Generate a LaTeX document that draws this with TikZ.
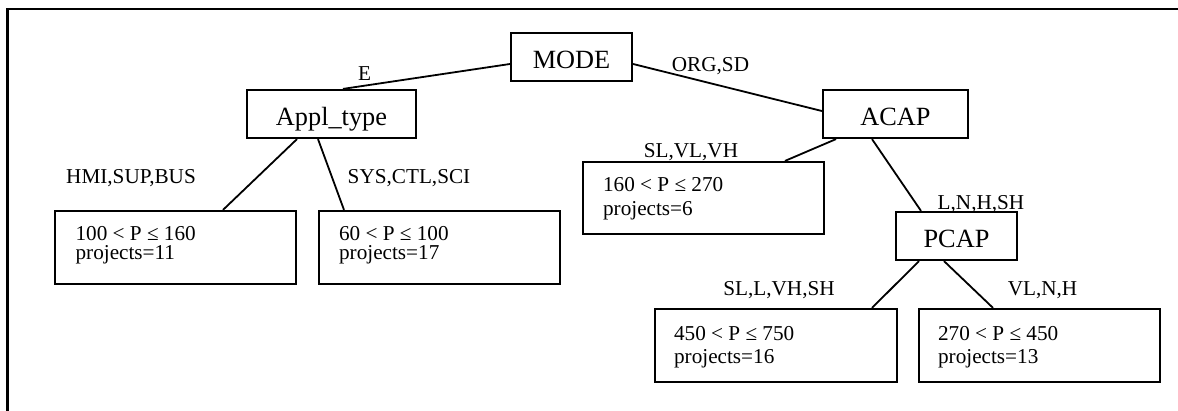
\documentclass[tikz,border=0pt]{standalone}
\usepackage{fontspec}
\setmainfont{Liberation Serif}
\begin{document}
\begin{tikzpicture}[x=1pt,y=-1pt,
  frame/.style={line width=2.6pt},
  split/.style={draw, line width=2.2pt, minimum width=#1, minimum height=48pt,
    inner sep=0pt, font=\fontsize{26.3}{30}\selectfont,
    text height=22pt, text depth=0pt},
  leaf/.style={draw, line width=2.2pt, minimum width=241pt, minimum height=73pt, inner sep=0pt},
  branch/.style={line width=1.8pt},
  lbl/.style={font=\fontsize{21.2}{24}\selectfont, anchor=base, inner sep=0pt},
  ltext/.style={font=\fontsize{21.2}{24}\selectfont, anchor=base west, inner sep=0pt}
]
\useasboundingbox (0,0) rectangle (1178,410);

% open frame: left and top edges
\draw[frame] (7.5,412) -- (7.5,9) -- (1180,9);

% decision nodes
\node[split=121pt] (mode) at (571.5,57) {MODE};
\node[split=169pt] (appl) at (331.5,114) {Appl\_type};
\node[split=145pt] (acap) at (895.5,114) {ACAP};
\node[split=121pt] (pcap) at (956.5,236) {PCAP};

% leaves
\node[leaf] (l1) at (175.5,247.5) {};
\node[leaf] (l2) at (439.5,247.5) {};
\node[leaf, minimum height=72pt] (l3) at (703.5,198) {};
\node[leaf, minimum width=242pt] (l4) at (776,345.5) {};
\node[leaf] (l5) at (1039.5,345.5) {};

\node[ltext] (l1a) at ([xshift=21.5pt,yshift=-31pt]l1.north west) {100 < P ≤ 160};
\node[ltext] (l1b) at ([xshift=21.5pt,yshift=-50pt]l1.north west) {projects=11};
\node[ltext] (l2a) at ([xshift=21pt,yshift=-31pt]l2.north west) {60 < P ≤ 100};
\node[ltext] (l2b) at ([xshift=21pt,yshift=-50pt]l2.north west) {projects=17};
\node[ltext] (l3a) at ([xshift=21pt,yshift=-31pt]l3.north west) {160 < P ≤ 270};
\node[ltext] (l3b) at ([xshift=21pt,yshift=-55pt]l3.north west) {projects=6};
\node[ltext] (l4a) at ([xshift=20pt,yshift=-33pt]l4.north west) {450 < P ≤ 750};
\node[ltext] (l4b) at ([xshift=20pt,yshift=-56pt]l4.north west) {projects=16};
\node[ltext] (l5a) at ([xshift=20pt,yshift=-33pt]l5.north west) {270 < P ≤ 450};
\node[ltext] (l5b) at ([xshift=20pt,yshift=-56pt]l5.north west) {projects=13};

% branches
\draw[branch] ([yshift=-7pt]mode.west) -- ([xshift=11.5pt]appl.north);
\draw[branch] ([yshift=-7pt]mode.east) -- ([yshift=3pt]acap.west);
\draw[branch] ([xshift=-34.5pt]appl.south) -- ([xshift=47.5pt]l1.north);
\draw[branch] ([xshift=-13.5pt]appl.south) -- ([xshift=-95.5pt]l2.north);
\draw[branch] ([xshift=-59.5pt]acap.south) -- ([xshift=81.5pt]l3.north);
\draw[branch] ([xshift=-23.5pt]acap.south) -- ([xshift=-35.5pt]pcap.north);
\draw[branch] ([xshift=-37.5pt]pcap.south) -- ([xshift=96pt]l4.north);
\draw[branch] ([xshift=-12.5pt]pcap.south) -- ([xshift=-46.5pt]l5.north);

% branch labels
\node[lbl] (tE) at (364.5,80) {E};
\node[lbl] (tORG) at (710.5,71) {ORG,SD};
\node[lbl] (tHMI) at (131,183) {HMI,SUP,BUS};
\node[lbl] (tSYS) at (409,183) {SYS,CTL,SCI};
\node[lbl] (tSLVL) at (691,157) {SL,VL,VH};
\node[lbl] (tLNH) at (981,209) {L,N,H,SH};
\node[lbl] (tSLL) at (779,295) {SL,L,VH,SH};
\node[lbl] (tVLN) at (1042.5,295) {VL,N,H};
\end{tikzpicture}
\end{document}
